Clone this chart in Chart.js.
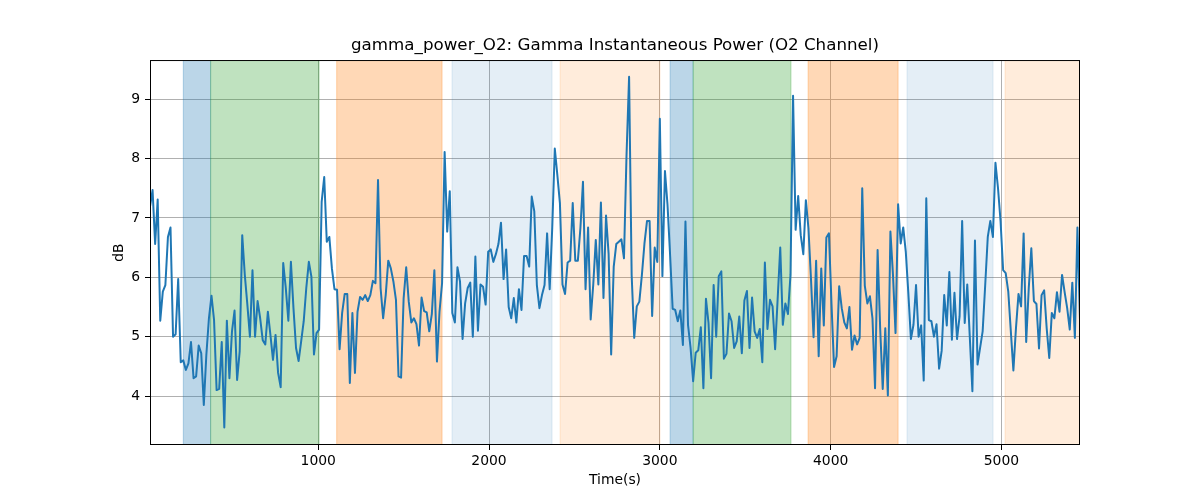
<!DOCTYPE html>
<html>
<head>
<meta charset="utf-8">
<title>gamma_power_O2</title>
<script src="https://cdn.jsdelivr.net/npm/chart.js@4.4.0/dist/chart.umd.min.js"></script>
<style>
    html, body { margin: 0; padding: 0; background: #fff; }
    #wrap { width: 1200px; height: 500px; }
</style>
</head>
<body>
<div id="wrap"><canvas id="gammaChart" width="1200" height="500"></canvas></div>
<script>
// one sample every 15 s, first one at 15 s
const startTime = 15;
const stepSeconds = 15;

const powerDb = [
    7.19, 7.47, 6.56, 7.31, 5.27, 5.76, 5.87, 6.68, 6.84, 5.00,
    5.04, 5.97, 4.57, 4.60, 4.44, 4.55, 4.91, 4.30, 4.33, 4.85,
    4.72, 3.85, 4.70, 5.31, 5.69, 5.28, 4.10, 4.12, 4.91, 3.47,
    5.27, 4.30, 5.09, 5.44, 4.27, 4.75, 6.71, 6.04, 5.54, 5.00,
    6.12, 5.00, 5.60, 5.31, 4.94, 4.87,
    5.42, 5.03, 4.61, 5.03, 4.39, 4.15, 6.24, 5.82, 5.27, 6.26,
    5.48, 4.81, 4.59, 4.92, 5.26, 5.82, 6.26, 6.01, 4.70, 5.06,
    5.12, 7.27, 7.69, 6.60, 6.68, 6.15, 5.80, 5.79, 4.79, 5.40,
    5.72, 5.72, 4.22, 5.40, 4.39, 5.42, 5.67, 5.62, 5.70, 5.60,
    5.70, 5.94, 5.90, 7.64,
    5.82, 5.31, 5.70, 6.28, 6.15, 5.93, 5.62, 4.33, 4.31, 5.65,
    6.17, 5.59, 5.24, 5.31, 5.21, 4.85, 5.66, 5.43, 5.41, 5.09,
    5.38, 6.12, 4.58, 5.42, 5.90, 8.11, 6.77, 7.45, 5.40, 5.24,
    6.17, 5.93, 4.96, 5.56, 5.82, 5.91, 5.00, 6.35, 5.10, 5.88,
    5.84, 5.54, 6.43, 6.47, 6.26,
    6.39, 6.56, 6.92, 5.97, 6.47, 5.50, 5.31, 5.65, 5.24, 5.80,
    5.45, 6.36, 6.36, 6.18, 7.36, 7.11, 5.87, 5.48, 5.70, 5.87,
    6.74, 5.80, 6.83, 8.17, 7.72, 7.25, 5.88, 5.72, 6.25, 6.28,
    7.25, 6.28, 6.28, 6.83, 7.61, 5.80, 6.84, 5.29, 5.87, 6.63,
    5.88, 7.26, 5.65, 7.04, 6.40,
    4.70, 6.18, 6.56, 6.60, 6.64, 6.32, 8.06, 9.38, 6.04, 4.98,
    5.51, 5.59, 6.04, 6.57, 6.95, 6.95, 5.35, 6.50, 6.26, 8.67,
    6.02, 7.79, 7.22, 6.38, 5.47, 5.45, 5.26, 5.44, 4.86, 6.94,
    5.20, 4.81, 4.25, 4.73, 4.77, 5.16, 4.13, 5.64, 5.23, 4.30,
    5.87, 5.00, 6.02, 6.10, 4.63,
    4.71, 5.39, 5.26, 4.81, 4.92, 5.34, 4.72, 5.61, 5.77, 4.81,
    5.66, 5.09, 4.98, 5.13, 4.57, 6.25, 5.13, 5.62, 5.51, 4.79,
    5.65, 6.50, 5.20, 5.56, 5.38, 6.04, 9.06, 6.80, 7.37, 6.71,
    6.39, 7.30, 6.83, 5.97, 4.99, 6.28, 4.67, 6.15, 5.19, 6.67,
    6.74, 5.56, 4.49, 4.67, 5.85,
    5.48, 5.24, 5.14, 5.50, 4.78, 5.02, 4.87, 4.98, 7.50, 5.86,
    5.56, 5.68, 5.31, 4.13, 6.46, 5.14, 4.12, 5.14, 4.01, 6.77,
    6.04, 5.06, 7.23, 6.57, 6.84, 6.43, 5.73, 4.96, 5.20, 5.87,
    5.00, 5.19, 4.26, 7.33, 5.28, 5.26, 5.00, 5.21, 4.46, 4.76,
    5.70, 5.19, 6.09, 4.95, 5.74,
    4.96, 5.34, 6.95, 5.23, 5.88, 4.98, 4.08, 6.62, 4.53, 4.81,
    5.09, 5.87, 6.68, 6.95, 6.68, 7.93, 7.50, 6.94, 6.12, 6.07,
    5.76, 5.09, 4.43, 5.14, 5.72, 5.51, 6.74, 4.91, 5.82, 6.49,
    5.60, 5.55, 4.80, 5.70, 5.78, 5.14, 4.64, 5.40, 5.31, 5.75,
    5.42, 6.04, 5.75, 5.48, 5.12, 5.91, 4.98, 6.84, 5.28
];

// shaded bands, in seconds; kind picks the fill below
const bandStart = [210, 370, 1108, 1783, 2416, 3060, 3195, 3868, 4447, 5021];
const bandEnd   = [370, 1005, 1725, 2369, 3001, 3195, 3768, 4395, 4951, 5460];
const bandKind  = [0, 1, 2, 3, 4, 0, 1, 2, 3, 4];

const xTicks = [1000, 2000, 3000, 4000, 5000];
const yTicks = [4, 5, 6, 7, 8, 9];

const bandFill = [
    'rgba(31,119,180,0.3)',
    'rgba(44,160,44,0.3)',
    'rgba(255,127,14,0.3)',
    'rgba(31,119,180,0.12)',
    'rgba(255,127,14,0.15)'
];

const points = powerDb.map((v, i) => ({ x: startTime + i * stepSeconds, y: v }));

const bandsPlugin = {
    id: 'bands',
    beforeDatasetsDraw(chart) {
        const { ctx, chartArea, scales } = chart;
        ctx.save();
        ctx.beginPath();
        ctx.rect(chartArea.left, chartArea.top, chartArea.width, chartArea.height);
        ctx.clip();
        bandStart.forEach((s, i) => {
            const x0 = scales.x.getPixelForValue(s);
            const x1 = scales.x.getPixelForValue(bandEnd[i]);
            ctx.fillStyle = bandFill[bandKind[i]];
            ctx.fillRect(x0, chartArea.top, x1 - x0, chartArea.height);
            ctx.strokeStyle = bandFill[bandKind[i]];
            ctx.lineWidth = 1;
            ctx.beginPath();
            ctx.moveTo(x0, chartArea.top);
            ctx.lineTo(x0, chartArea.bottom);
            ctx.moveTo(x1, chartArea.top);
            ctx.lineTo(x1, chartArea.bottom);
            ctx.stroke();
        });
        ctx.restore();
    }
};

// matplotlib-style box round the axes
const framePlugin = {
    id: 'frame',
    afterDraw(chart) {
        const { ctx, chartArea } = chart;
        ctx.save();
        ctx.strokeStyle = '#000';
        ctx.lineWidth = 1;
        ctx.strokeRect(chartArea.left + 0.5, chartArea.top + 0.5,
            chartArea.width - 1, chartArea.height - 1);
        ctx.restore();
    }
};

Chart.defaults.font.family = "'DejaVu Sans', sans-serif";
Chart.defaults.color = '#000';

const ctx = document.getElementById('gammaChart').getContext('2d');
new Chart(ctx, {
    type: 'line',
    data: {
        datasets: [{
            label: 'gamma_power_O2',
            data: points,
            borderColor: '#1f77b4',
            borderWidth: 2,
            borderJoinStyle: 'round',
            pointRadius: 0,
            tension: 0,
            fill: false
        }]
    },
    options: {
        responsive: false,
        animation: false,
        devicePixelRatio: 1,
        layout: { padding: { left: 0, right: 120, top: 0, bottom: 0 } },
        scales: {
            x: {
                type: 'linear',
                min: 15,
                max: 5460,
                afterFit: (scale) => { scale.height = 55; },
                afterBuildTicks: (scale) => { scale.ticks = xTicks.map(v => ({ value: v })); },
                grid: { color: '#b0b0b0', lineWidth: 1, tickColor: '#000', tickLength: 5 },
                border: { display: false },
                ticks: { font: { size: 13.9 }, padding: 3, maxRotation: 0, callback: (v) => String(v) },
                title: {
                    display: true,
                    text: 'Time(s)',
                    font: { size: 13.9 },
                    padding: { top: 0, bottom: 11 }
                }
            },
            y: {
                type: 'linear',
                min: 3.175,
                max: 9.66,
                afterFit: (scale) => { scale.width = 150; },
                afterBuildTicks: (scale) => { scale.ticks = yTicks.map(v => ({ value: v })); },
                grid: { color: '#b0b0b0', lineWidth: 1, tickColor: '#000', tickLength: 5 },
                border: { display: false },
                ticks: { font: { size: 13.9 }, padding: 5, callback: (v) => String(v) },
                title: {
                    display: true,
                    text: 'dB',
                    font: { size: 13.9 },
                    padding: { top: 111, bottom: 0 }
                }
            }
        },
        plugins: {
            legend: { display: false },
            tooltip: { enabled: false },
            title: {
                display: true,
                fullSize: false,
                text: 'gamma_power_O2: Gamma Instantaneous Power (O2 Channel)',
                font: { size: 16.7, weight: 'normal' },
                color: '#000',
                padding: { top: 36, bottom: 4 }
            }
        }
    },
    plugins: [bandsPlugin, framePlugin]
});
</script>
</body>
</html>
